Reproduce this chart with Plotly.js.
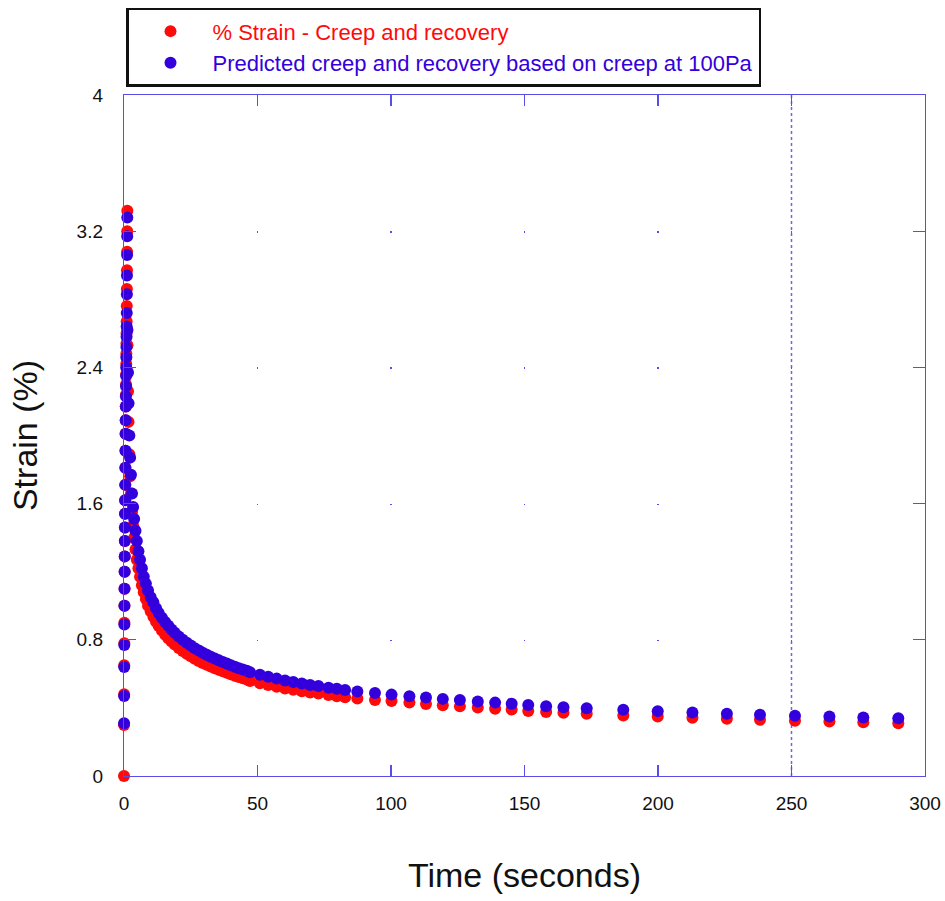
<!DOCTYPE html>
<html><head><meta charset="utf-8">
<script src="https://cdn.plot.ly/plotly-3.0.1.min.js"></script>
<style>html,body{margin:0;padding:0;background:#fff}#chart{width:945px;height:901px}</style>
</head><body><div id="chart"></div>
<script>
// Creep phase (red measured, blue predicted)
const redCreepTime = [0, 0.02, 0.05, 0.08, 0.11, 0.14, 0.17, 0.2, 0.24, 0.28, 0.32, 0.36, 0.4, 0.44, 0.48, 0.52, 0.56, 0.6, 0.64, 0.68, 0.72, 0.76, 0.8, 0.84, 0.88, 0.92, 0.96, 1.0, 1.04, 1.08, 1.12, 1.16, 1.2, 1.24];
const redCreep = [0, 0.30, 0.48, 0.65, 0.78, 0.90, 1.00, 1.10, 1.20, 1.29, 1.38, 1.46, 1.54, 1.62, 1.71, 1.81, 1.91, 2.01, 2.09, 2.17, 2.24, 2.30, 2.36, 2.42, 2.48, 2.54, 2.60, 2.67, 2.76, 2.86, 2.97, 3.08, 3.20, 3.32];
const blueCreepTime = [0.02, 0.05, 0.08, 0.11, 0.14, 0.17, 0.2, 0.24, 0.28, 0.32, 0.36, 0.4, 0.44, 0.48, 0.52, 0.56, 0.6, 0.64, 0.68, 0.72, 0.76, 0.8, 0.84, 0.88, 0.92, 0.96, 1.0, 1.04, 1.08, 1.12, 1.16, 1.2, 1.24];
const blueCreep = [0.31, 0.47, 0.64, 0.77, 0.89, 1.00, 1.10, 1.20, 1.29, 1.38, 1.46, 1.54, 1.62, 1.71, 1.81, 1.91, 2.01, 2.09, 2.17, 2.23, 2.29, 2.35, 2.40, 2.46, 2.52, 2.58, 2.64, 2.72, 2.83, 2.94, 3.06, 3.17, 3.28];

// Recovery phase
const recoveryTime = [1.3, 1.5, 1.7, 2.0, 2.3, 2.6, 3.0, 3.4, 3.8, 4.3, 4.8, 5.4, 6.0, 6.7, 7.4, 8.2, 9.0, 10, 11, 12, 13, 14.2, 15.4, 16.6, 17.8, 19, 20.5, 22, 23.5, 25, 26.5, 28, 29.5, 31, 32.5, 34, 35.5, 37, 38.5, 40, 41.5, 43, 44.5, 46, 47.2, 50.9, 54.0, 57.2, 60.3, 63.4, 66.6, 69.7, 72.8, 76.6, 79.7, 82.8, 87.4, 94.0, 100.2, 106.9, 113.1, 119.4, 125.8, 132.5, 139.0, 145.2, 151.4, 158.1, 164.6, 173.3, 187.0, 199.9, 212.9, 225.8, 238.2, 251.3, 264.2, 276.9, 290.0];
const redRecovery = [2.53, 2.26, 2.08, 1.89, 1.76, 1.66, 1.55, 1.47, 1.40, 1.33, 1.27, 1.22, 1.17, 1.12, 1.08, 1.04, 1.00, 0.967, 0.935, 0.906, 0.881, 0.854, 0.830, 0.809, 0.790, 0.772, 0.752, 0.734, 0.718, 0.703, 0.689, 0.676, 0.664, 0.653, 0.643, 0.633, 0.624, 0.615, 0.607, 0.597, 0.589, 0.581, 0.574, 0.567, 0.558, 0.545, 0.534, 0.524, 0.514, 0.506, 0.498, 0.490, 0.484, 0.476, 0.469, 0.463, 0.455, 0.446, 0.440, 0.431, 0.423, 0.416, 0.409, 0.402, 0.395, 0.390, 0.382, 0.376, 0.371, 0.365, 0.356, 0.349, 0.342, 0.336, 0.330, 0.325, 0.320, 0.315, 0.310];
const blueRecovery = [2.62, 2.37, 2.19, 2.00, 1.87, 1.77, 1.66, 1.58, 1.51, 1.44, 1.38, 1.32, 1.27, 1.22, 1.17, 1.13, 1.09, 1.05, 1.02, 0.985, 0.958, 0.930, 0.905, 0.882, 0.861, 0.842, 0.820, 0.800, 0.783, 0.766, 0.751, 0.737, 0.724, 0.712, 0.701, 0.690, 0.680, 0.670, 0.661, 0.651, 0.642, 0.633, 0.626, 0.618, 0.610, 0.595, 0.583, 0.572, 0.561, 0.552, 0.543, 0.535, 0.528, 0.519, 0.512, 0.505, 0.497, 0.487, 0.478, 0.469, 0.461, 0.453, 0.446, 0.438, 0.431, 0.425, 0.417, 0.410, 0.404, 0.398, 0.389, 0.381, 0.373, 0.366, 0.360, 0.354, 0.349, 0.344, 0.339];

const seriesNames = ['% Strain - Creep and recovery', 'Predicted creep and recovery based on creep at 100Pa'];
const xTicks = [0, 50, 100, 150, 200, 250, 300];
const yTicks = [0, 0.8, 1.6, 2.4, 3.2, 4];
const yTickText = ['0', '0.8', '1.6', '2.4', '3.2', '4'];

const RED = '#ff0a0a', BLUE = '#3300dd', AX = '#5a4ce6';
const FONT = 'Liberation Sans, Arial, sans-serif';

const traces = [
  {
    type: 'scatter', mode: 'markers',
    x: redCreepTime.concat(recoveryTime), y: redCreep.concat(redRecovery),
    name: '<span style="color:' + RED + '">' + seriesNames[0] + '</span>',
    marker: {color: RED, size: 12},
    cliponaxis: false
  },
  {
    type: 'scatter', mode: 'markers',
    x: blueCreepTime.concat(recoveryTime), y: blueCreep.concat(blueRecovery),
    name: '<span style="color:' + BLUE + '">' + seriesNames[1] + '</span>',
    marker: {color: BLUE, size: 12},
    cliponaxis: false
  }
];

const axisCommon = {
  showline: true, linecolor: AX, linewidth: 1.2, mirror: 'ticks',
  ticks: 'inside', tickcolor: AX, tickwidth: 1.2,
  zeroline: false,
  tickfont: {family: FONT, size: 19, color: '#111'}
};

const layout = {
  width: 945, height: 901,
  margin: {l: 124, r: 20, t: 95, b: 125, autoexpand: false},
  paper_bgcolor: '#fff', plot_bgcolor: '#fff',
  showlegend: true,
  legend: {
    x: 0.0025, xanchor: 'left', y: 1.128, yanchor: 'top',
    bgcolor: '#fff', bordercolor: '#111', borderwidth: 2.5,
    font: {family: FONT, size: 22},
    itemwidth: 74, tracegroupgap: 0
  },
  xaxis: Object.assign({}, axisCommon, {
    range: [0, 300], tickvals: xTicks, ticklen: 11,
    showgrid: true, gridcolor: AX, gridwidth: 1.5, griddash: '1.5px,134.7px',
    ticklabelstandoff: 10,
    title: {text: 'Time (seconds)', standoff: 50, font: {family: FONT, size: 34, color: '#111'}}
  }),
  yaxis: Object.assign({}, axisCommon, {
    range: [0, 4], tickvals: yTicks, ticktext: yTickText, ticklen: 12,
    showgrid: false,
    ticklabelstandoff: 16,
    title: {text: 'Strain (%)', standoff: 28, font: {family: FONT, size: 34, color: '#111'}}
  }),
  shapes: [
    {type: 'line', xref: 'x', yref: 'paper', x0: 250, x1: 250, y0: 0, y1: 1,
     line: {color: '#6f62f0', width: 1.5, dash: 'dot'}, layer: 'below'}
  ]
};

Plotly.newPlot('chart', traces, layout, {displayModeBar: false, staticPlot: true});
</script>
</body></html>
